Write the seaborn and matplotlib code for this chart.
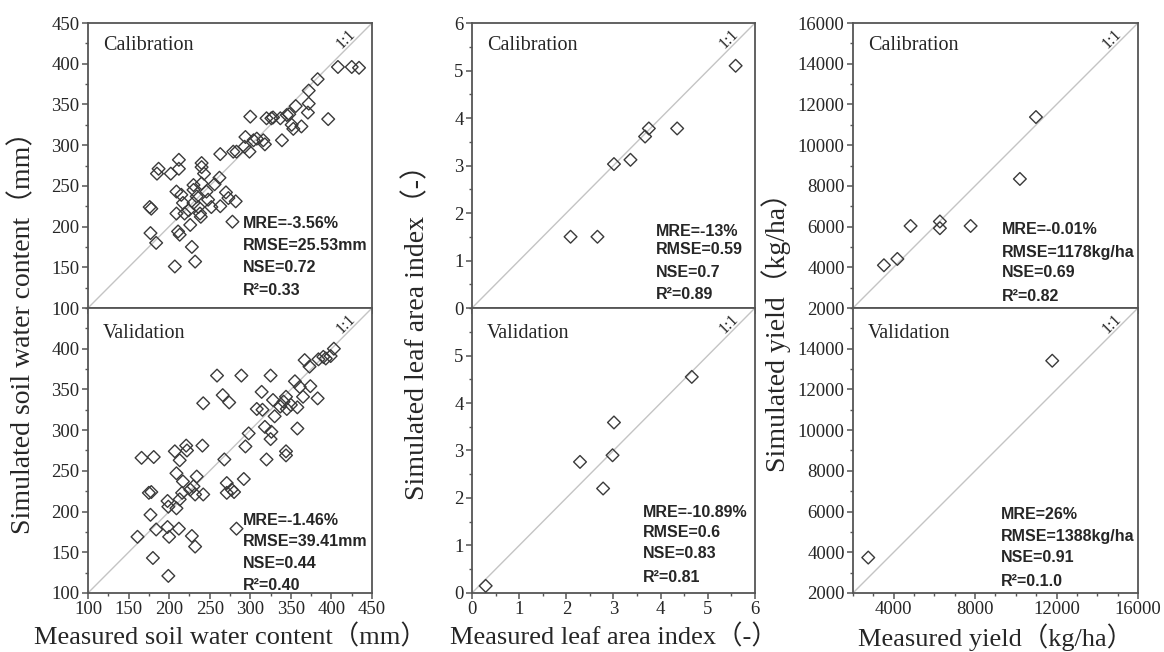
import numpy as np
import matplotlib
matplotlib.use("Agg")
import matplotlib.pyplot as plt
import seaborn as sns
from matplotlib.ticker import MultipleLocator, FixedLocator

# soil water content (mm), calibration
swc_cal_meas = [408, 425, 434, 383, 372, 372, 356, 371, 396, 345, 300, 320, 326, 328, 337, 348,
                363, 353, 339, 351, 294, 293, 299, 304, 308, 316, 318, 283, 279, 263, 187, 185,
                202, 212, 212, 240, 240, 243, 230, 240, 256, 262, 209, 215, 230, 234, 246, 270,
                273, 282, 263, 252, 236, 230, 217, 224, 209, 219, 238, 176, 178, 239, 226, 278,
                177, 184, 211, 213, 228, 232, 207, 248]
swc_cal_sim = [396, 396, 395, 381, 367, 351, 348, 340, 332, 337, 335, 333, 333, 334, 333, 338,
               323, 320, 306, 325, 310, 298, 292, 306, 308, 306, 301, 292, 292, 289, 271, 265,
               265, 282, 271, 278, 273, 265, 251, 253, 252, 260, 243, 239, 245, 237, 243, 242,
               235, 231, 225, 224, 224, 229, 229, 220, 216, 216, 216, 224, 222, 212, 202, 206,
               192, 180, 194, 190, 175, 157, 151, 233]
# soil water content (mm), validation
swc_val_meas = [403, 399, 390, 384, 393, 367, 373, 355, 361, 374, 365, 383, 358, 344, 341, 350,
                345, 337, 328, 314, 315, 308, 330, 325, 289, 259, 266, 274, 242, 298, 294, 318,
                326, 325, 358, 344, 344, 320, 268, 292, 271, 271, 277, 280, 241, 221, 222, 207,
                213, 209, 217, 216, 213, 226, 232, 234, 230, 242, 166, 181, 175, 178, 198, 199,
                209, 177, 161, 184, 198, 200, 212, 228, 232, 180, 199, 283]
swc_val_sim = [400, 391, 390, 387, 388, 386, 378, 360, 353, 354, 341, 339, 328, 341, 335, 331,
               326, 329, 337, 347, 325, 326, 317, 367, 367, 367, 343, 334, 333, 296, 280, 304,
               298, 289, 302, 274, 269, 264, 264, 240, 235, 223, 227, 224, 281, 281, 275, 274,
               263, 247, 237, 223, 215, 227, 221, 243, 231, 221, 266, 267, 223, 224, 213, 206,
               204, 196, 169, 178, 181, 169, 179, 170, 157, 143, 121, 179]

# leaf area index (-)
lai_cal_meas = [5.59, 3.75, 3.67, 4.35, 3.01, 3.36, 2.09, 2.66]
lai_cal_sim = [5.10, 3.78, 3.61, 3.78, 3.03, 3.12, 1.50, 1.50]
lai_val_meas = [4.66, 3.01, 2.98, 2.29, 2.78, 0.29]
lai_val_sim = [4.55, 3.59, 2.90, 2.76, 2.20, 0.15]

# yield (kg/ha)
yld_cal_meas = [10990, 10200, 7780, 6270, 6270, 4830, 4180, 3520]
yld_cal_sim = [11380, 8340, 6030, 6250, 5920, 6030, 4410, 4100]
yld_val_meas = [11790, 2750]
yld_val_sim = [13410, 3740]

stats = {
    (0, 0): ["MRE=-3.56%", "RMSE=25.53mm", "NSE=0.72", "R²=0.33"],
    (1, 0): ["MRE=-1.46%", "RMSE=39.41mm", "NSE=0.44", "R²=0.40"],
    (0, 1): ["MRE=-13%", "RMSE=0.59", "NSE=0.7", "R²=0.89"],
    (1, 1): ["MRE=-10.89%", "RMSE=0.6", "NSE=0.83", "R²=0.81"],
    (0, 2): ["MRE=-0.01%", "RMSE=1178kg/ha", "NSE=0.69", "R²=0.82"],
    (1, 2): ["MRE=26%", "RMSE=1388kg/ha", "NSE=0.91", "R²=0.1.0"],
}
stat_x = {(0, 0): 0.546, (1, 0): 0.546, (0, 1): 0.65, (1, 1): 0.604, (0, 2): 0.523, (1, 2): 0.52}
stat_y = {(0, 0): [0.295, 0.221, 0.142, 0.063], (1, 0): [0.256, 0.181, 0.105, 0.028],
          (0, 1): [0.270, 0.204, 0.123, 0.046], (1, 1): [0.284, 0.214, 0.140, 0.053],
          (0, 2): [0.274, 0.196, 0.123, 0.042], (1, 2): [0.274, 0.197, 0.123, 0.039]}

sns.set_style("ticks")
plt.rcParams['font.family'] = ['Liberation Serif', 'Noto Sans CJK SC']

fig = plt.figure(figsize=(11.64, 6.52), dpi=100)

col_x = [0.0756, 0.4055, 0.7328]
col_w = [0.244, 0.2431, 0.2448]
row_y = [0.5276, 0.0905]
row_h = 0.4371

cols = [
    dict(data=[(swc_cal_meas, swc_cal_sim), (swc_val_meas, swc_val_sim)], lim=(100, 450),
         ymaj=50, ymin=25, xmaj=FixedLocator([100, 150, 200, 250, 300, 350, 400, 450]), xmin=25,
         ylabel="Simulated soil water content（mm）", xlabel="Measured soil water content（mm）",
         ylab_x=0.020),
    dict(data=[(lai_cal_meas, lai_cal_sim), (lai_val_meas, lai_val_sim)], lim=(0, 6),
         ymaj=1, ymin=0.5, xmaj=FixedLocator([0, 1, 2, 3, 4, 5, 6]), xmin=0.5,
         ylabel="Simulated leaf area index（-）", xlabel="Measured leaf area index（-）",
         ylab_x=0.358),
    dict(data=[(yld_cal_meas, yld_cal_sim), (yld_val_meas, yld_val_sim)], lim=(2000, 16000),
         ymaj=2000, ymin=1000, xmaj=FixedLocator([4000, 8000, 12000, 16000]), xmin=1000,
         ylabel="Simulated yield（kg/ha）", xlabel="Measured yield（kg/ha）",
         ylab_x=0.667),
]

frame = '#555555'
for c, cfg in enumerate(cols):
    lo, hi = cfg['lim']
    for r in range(2):
        ax = fig.add_axes([col_x[c], row_y[r], col_w[c], row_h])
        xm, ys = cfg['data'][r]
        # 1:1 reference line
        ax.plot([lo, hi], [lo, hi], color='#c4c4c4', lw=1.0, zorder=1)
        sns.scatterplot(x=xm, y=ys, ax=ax, marker='D', s=42, facecolor='none',
                        edgecolor='#3a3a3a', linewidth=1.0, zorder=3)
        ax.set_xlim(lo, hi)
        ax.set_ylim(lo, hi)
        ax.yaxis.set_major_locator(MultipleLocator(cfg['ymaj']))
        ax.yaxis.set_minor_locator(MultipleLocator(cfg['ymin']))
        ax.xaxis.set_major_locator(cfg['xmaj'])
        ax.xaxis.set_minor_locator(MultipleLocator(cfg['xmin']))
        for sp in ax.spines.values():
            sp.set_color(frame)
            sp.set_linewidth(1.3)
            sp.set_visible(True)
        ax.tick_params(which='major', direction='out', length=4, width=1.1, color=frame,
                       labelsize=13.5, pad=2)
        ax.tick_params(which='minor', direction='out', length=2.5, width=1.0, color=frame)
        ax.tick_params(top=False, right=False, which='both')
        if r == 0:
            ax.tick_params(labelbottom=False)
        else:
            yt = [t for t in ax.get_yticks() if lo <= t < hi]
            ax.set_yticks(yt)
            ax.set_xlabel(cfg['xlabel'], fontsize=19, labelpad=4)
        ax.text(0.053, 0.92 if r == 0 else 0.91, "Calibration" if r == 0 else "Validation",
                transform=ax.transAxes, fontsize=14.5, va='center', ha='left')
        ax.text(0.91, 0.945, "1:1", transform=ax.transAxes, fontsize=11.5,
                rotation=45, ha='center', va='center')
        for line, yy in zip(stats[(r, c)], stat_y[(r, c)]):
            ax.text(stat_x[(r, c)], yy, line, transform=ax.transAxes, fontsize=11.5,
                    fontweight='bold', family=['Liberation Sans', 'DejaVu Sans'],
                    ha='left', va='center')
    fig.text(cfg['ylab_x'], 0.5, cfg['ylabel'], rotation=90, fontsize=20,
             ha='center', va='center')

fig.savefig("out.png", dpi=100)
